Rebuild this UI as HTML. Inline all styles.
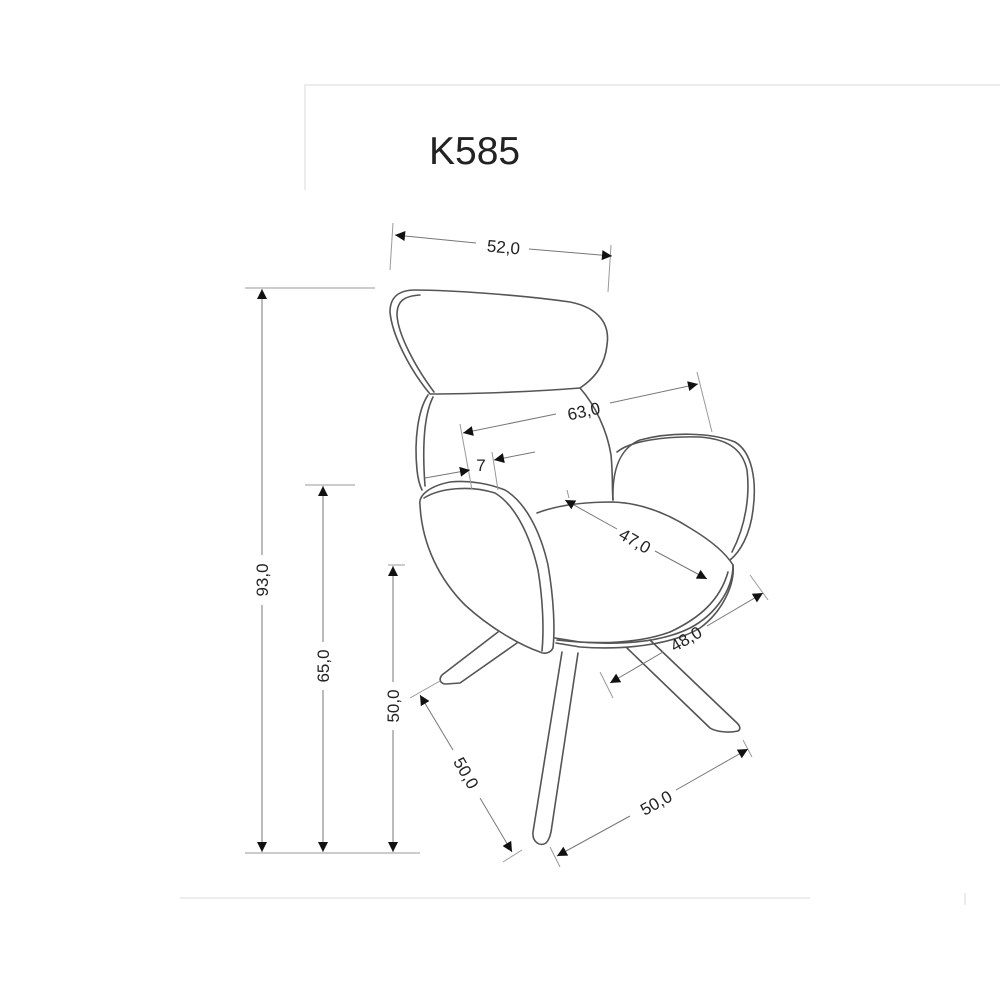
<!DOCTYPE html>
<html><head><meta charset="utf-8"><style>
html,body{margin:0;padding:0;background:#fff;}
svg{display:block;}
text{font-family:"Liberation Sans",sans-serif;fill:#222;}
</style></head><body>
<svg width="1000" height="1000" viewBox="0 0 1000 1000" xmlns="http://www.w3.org/2000/svg">
<defs>
<marker id="a" viewBox="0 0 10 10" refX="10" refY="5" markerWidth="14" markerHeight="10" markerUnits="userSpaceOnUse" orient="auto-start-reverse">
<path d="M0,0 L10,5 L0,10 z" fill="#111"/></marker>
</defs>
<g stroke="#e6e6e6" stroke-width="1.5" fill="none">
<path d="M305,190 L305,85 L1000,85"/>
<path d="M180,898 L810,898"/>
<path d="M965,893 L965,905"/>
</g>
<text x="429" y="164" font-size="39">K585</text>

<g stroke="#555" stroke-width="1.6" fill="none" stroke-linejoin="round" stroke-linecap="round">
<path d="M430,394 C410,370 392,335 390,312 C390,298 398,290 415,290 C450,290 520,295 570,302 C600,308 610,325 607,345 C605,365 595,378 580,388 C530,392 470,394 430,394 Z"/>
<path d="M434,392 C416,368 398,335 397,315 C397,301 404,296 420,295"/>
<path d="M428,395 C418,410 414,440 417,470 C418,480 420,486 422,490"/>
<path d="M433,397 C424,415 422,445 425,486"/>
<path d="M580,388 C595,405 607,430 611,455 C613,475 612,490 613,500"/>
<path d="M613,500 C612,470 620,448 640,440 C670,432 710,432 735,442 C752,452 757,480 753,510 C750,535 740,552 730,560"/>
<path d="M617,452 C630,441 665,436 700,437 C725,439 742,447 747,470 C750,495 746,525 732,552"/>
<path d="M537,513 C555,506 580,502 613,502 C640,503 665,512 690,528 C710,540 725,552 733,565 C733,590 715,615 690,628 C660,643 620,645 580,642 L555,638"/>
<path d="M728,572 C720,600 700,618 670,632 C640,643 600,645 557,640"/>
<path d="M733,565 C735,585 722,612 700,628 C670,646 620,650 580,647 L556,643"/>
<path d="M420,505 C418,495 430,486 450,482 C470,480 490,484 505,490 C525,502 540,530 548,565 C554,600 555,630 553,648 C550,654 543,654 540,652 C520,645 490,628 465,605 C440,580 422,545 420,505 Z"/>
<path d="M424,498 C440,488 470,485 495,493 C515,505 530,535 538,570 C543,600 544,630 542,651"/>
<path d="M498,632 L442,675 C438,680 441,684 446,684 L460,683 L517,643"/>
<path d="M562,652 L533,832 C532,842 540,847 546,843 C549,840 550,836 551,832 L578,653"/>
<path d="M627,648 L710,728 C716,732 730,733 738,731 C741,729 740,726 737,723 L650,640"/>
</g>

<g stroke="#999" stroke-width="1" fill="none">
<path d="M393,223 L390,270"/><path d="M611,245 L608,292"/>
<path d="M245,288 L375,288"/><path d="M245,853 L420,853"/>
<path d="M305,485 L355,485"/><path d="M388,565 L405,565"/>
<path d="M460,424 L472,490"/><path d="M697,372 L712,432"/>
<path d="M492,452 L498,490"/>
<path d="M410,698 L440,681"/><path d="M503,862 L522,850"/>
<path d="M550,847 L560,867"/><path d="M743,740 L752,757"/>
<path d="M600,672 L613,698"/><path d="M750,575 L768,600"/>
<path d="M567,490 L569,498"/>
</g>
<g stroke="#777" stroke-width="1" fill="none">
<line x1="395" y1="235" x2="476" y2="243" marker-start="url(#a)"/>
<line x1="529" y1="249" x2="612" y2="256" marker-end="url(#a)"/>
<line x1="262" y1="289" x2="262" y2="555" marker-start="url(#a)"/>
<line x1="262" y1="605" x2="262" y2="852" marker-end="url(#a)"/>
<line x1="323" y1="486" x2="323" y2="642" marker-start="url(#a)"/>
<line x1="323" y1="690" x2="323" y2="852" marker-end="url(#a)"/>
<line x1="393" y1="566" x2="393" y2="682" marker-start="url(#a)"/>
<line x1="393" y1="730" x2="393" y2="852" marker-end="url(#a)"/>
<line x1="463" y1="433" x2="556" y2="414" marker-start="url(#a)"/>
<line x1="610" y1="403" x2="698" y2="384" marker-end="url(#a)"/>
<line x1="425" y1="478" x2="470" y2="470" marker-end="url(#a)"/>
<line x1="535" y1="452" x2="494" y2="460" marker-end="url(#a)"/>
<line x1="565" y1="500" x2="617" y2="529" marker-start="url(#a)"/>
<line x1="655" y1="551" x2="707" y2="579" marker-end="url(#a)"/>
<line x1="610" y1="683" x2="663" y2="652" marker-start="url(#a)"/>
<line x1="707" y1="626" x2="763" y2="593" marker-end="url(#a)"/>
<line x1="420" y1="695" x2="453" y2="750" marker-start="url(#a)"/>
<line x1="480" y1="798" x2="512" y2="852" marker-end="url(#a)"/>
<line x1="557" y1="856" x2="630" y2="816" marker-start="url(#a)"/>
<line x1="676" y1="790" x2="748" y2="749" marker-end="url(#a)"/>
</g>
<g font-size="17">
<text transform="translate(503,253) rotate(5)" text-anchor="middle">52,0</text>
<text transform="translate(268,580) rotate(-90)" text-anchor="middle">93,0</text>
<text transform="translate(329,666) rotate(-90)" text-anchor="middle">65,0</text>
<text transform="translate(399,706) rotate(-90)" text-anchor="middle">50,0</text>
<text transform="translate(585,417) rotate(-12)" text-anchor="middle">63,0</text>
<text x="481" y="471" text-anchor="middle">7</text>
<text transform="translate(632,546) rotate(30)" text-anchor="middle">47,0</text>
<text transform="translate(689,644) rotate(-30)" text-anchor="middle">48,0</text>
<text transform="translate(461,776) rotate(60)" text-anchor="middle">50,0</text>
<text transform="translate(659,808) rotate(-29)" text-anchor="middle">50,0</text>
</g>
</svg>
</body></html>
